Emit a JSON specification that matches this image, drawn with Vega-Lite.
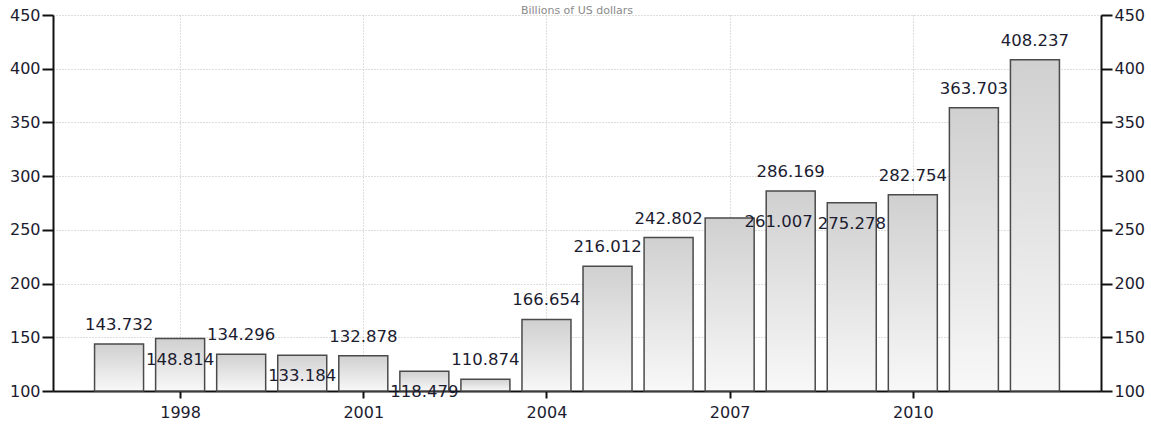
{
  "$schema": "https://vega.github.io/schema/vega-lite/v6.json",
  "width": 1048,
  "height": 376,
  "autosize": {"type": "none"},
  "padding": {"left": 53, "top": 15, "right": 50, "bottom": 37},
  "background": "white",
  "title": {"text": "Billions of US dollars", "fontSize": 11, "color": "#8a8a8a", "fontWeight": "normal", "font": "DejaVu Sans", "anchor": "middle", "frame": "group", "offset": -9},
  "config": {"view": {"stroke": null}},
  "data": {
    "values": [
      {"year": 1997, "value": 143.732, "placement": "above"},
      {"year": 1998, "value": 148.814, "placement": "below"},
      {"year": 1999, "value": 134.296, "placement": "above"},
      {"year": 2000, "value": 133.184, "placement": "below"},
      {"year": 2001, "value": 132.878, "placement": "above"},
      {"year": 2002, "value": 118.479, "placement": "below"},
      {"year": 2003, "value": 110.874, "placement": "above"},
      {"year": 2004, "value": 166.654, "placement": "above"},
      {"year": 2005, "value": 216.012, "placement": "above"},
      {"year": 2006, "value": 242.802, "placement": "above"},
      {"year": 2007, "value": 261.007, "placement": "right"},
      {"year": 2008, "value": 286.169, "placement": "above"},
      {"year": 2009, "value": 275.278, "placement": "below"},
      {"year": 2010, "value": 282.754, "placement": "above"},
      {"year": 2011, "value": 363.703, "placement": "above"},
      {"year": 2012, "value": 408.237, "placement": "above"}
    ]
  },
  "layer": [
    {
      "mark": {
        "type": "bar",
        "size": 49,
        "stroke": "#4a4a4a",
        "strokeWidth": 1.5,
        "fill": {
          "gradient": "linear",
          "x1": 0, "y1": 0, "x2": 0, "y2": 1,
          "stops": [
            {"offset": 0, "color": "#d0d0d0"},
            {"offset": 1, "color": "#f8f8f8"}
          ]
        }
      },
      "encoding": {
        "x": {
          "field": "year", "type": "quantitative",
          "scale": {"domain": [1996, 2013], "nice": false, "zero": false},
          "axis": {
            "title": null, "values": [1998, 2001, 2004, 2007, 2010], "format": "d",
            "tickSize": 7, "tickWidth": 2, "tickColor": "#111111",
            "domainColor": "#111111", "domainWidth": 2,
            "labelFont": "DejaVu Sans", "labelFontSize": 16, "labelColor": "#1c1c30",
            "labelPadding": 6, "labelFlush": false,
            "grid": true, "gridColor": "#bdbdbd", "gridDash": [1, 2], "gridWidth": 1
          }
        },
        "y": {
          "field": "value", "type": "quantitative",
          "scale": {"domain": [100, 450], "nice": false, "zero": false},
          "axis": {
            "orient": "left", "title": null, "values": [100, 150, 200, 250, 300, 350, 400, 450],
            "tickSize": 11, "tickWidth": 2, "tickColor": "#111111",
            "domainColor": "#111111", "domainWidth": 2,
            "labelFont": "DejaVu Sans", "labelFontSize": 16, "labelColor": "#1c1c30",
            "labelPadding": 2, "labelFlush": false,
            "grid": true, "gridColor": "#bdbdbd", "gridDash": [1, 2], "gridWidth": 1
          }
        },
        "y2": {"datum": 100}
      }
    },
    {
      "transform": [{"filter": "datum.placement == 'above'"}],
      "mark": {"type": "text", "dy": -19, "baseline": "middle", "align": "center", "font": "DejaVu Sans", "fontSize": 16.5, "color": "#1c1c30"},
      "encoding": {
        "x": {"field": "year", "type": "quantitative"},
        "y": {
          "field": "value", "type": "quantitative",
          "axis": {
            "orient": "right", "title": null, "values": [100, 150, 200, 250, 300, 350, 400, 450],
            "tickSize": 11, "tickWidth": 2, "tickColor": "#111111",
            "domainColor": "#111111", "domainWidth": 2,
            "labelFont": "DejaVu Sans", "labelFontSize": 16, "labelColor": "#1c1c30",
            "labelPadding": 2, "labelFlush": false, "grid": false
          }
        },
        "text": {"field": "value", "type": "quantitative", "format": ".3f"}
      }
    },
    {
      "transform": [{"filter": "datum.placement == 'below'"}],
      "mark": {"type": "text", "dy": 21, "baseline": "middle", "align": "center", "font": "DejaVu Sans", "fontSize": 16.5, "color": "#1c1c30"},
      "encoding": {
        "x": {"field": "year", "type": "quantitative"},
        "y": {"field": "value", "type": "quantitative", "axis": null},
        "text": {"field": "value", "type": "quantitative", "format": ".3f"}
      }
    },
    {
      "transform": [{"filter": "datum.placement == 'right'"}],
      "mark": {"type": "text", "dx": 49, "dy": 4, "baseline": "middle", "align": "center", "font": "DejaVu Sans", "fontSize": 16.5, "color": "#1c1c30"},
      "encoding": {
        "x": {"field": "year", "type": "quantitative"},
        "y": {"field": "value", "type": "quantitative", "axis": null},
        "text": {"field": "value", "type": "quantitative", "format": ".3f"}
      }
    }
  ],
  "resolve": {"axis": {"y": "independent"}}
}
